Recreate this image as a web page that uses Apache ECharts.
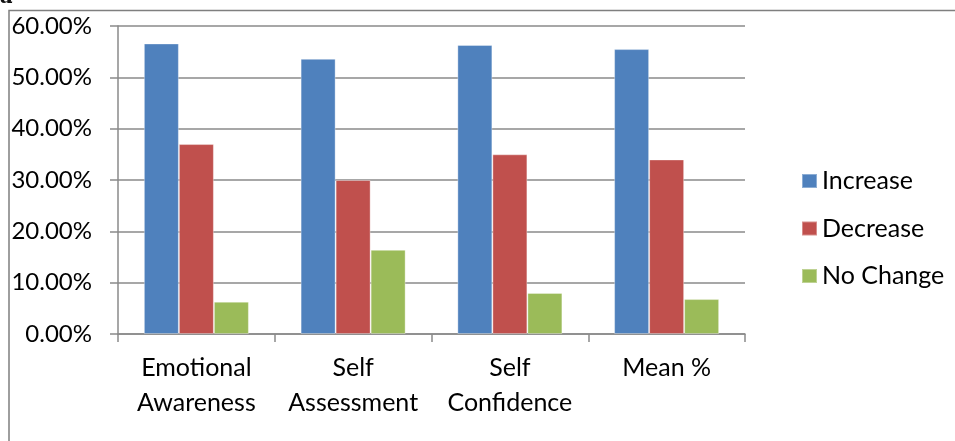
<!DOCTYPE html>
<html>
<head>
<meta charset="utf-8">
<script src="https://cdn.jsdelivr.net/npm/echarts@6/dist/echarts.min.js"></script>
<style>
  html, body { margin: 0; padding: 0; background: #fff; }
  #chart { width: 955px; height: 441px; }
</style>
</head>
<body>
<div id="chart"></div>
<script>
// Category labels and shares per group
const categories = ['Emotional\nAwareness', 'Self\nAssessment', 'Self\nConfidence', 'Mean %'];
const seriesNames = ['Increase', 'Decrease', 'No Change'];
const increase = [0.566, 0.536, 0.563, 0.555];
const decrease = [0.370, 0.300, 0.350, 0.340];
const noChange = [0.063, 0.164, 0.080, 0.068];
const yTicks = { min: 0, max: 0.6, interval: 0.1 };

const colors = ['#4F81BD', '#C0504D', '#9BBB59'];
const font = 'Lato, "Open Sans", sans-serif';
const fontSize = 25;
const gridGrey = '#8a8a8a';

const chart = echarts.init(document.getElementById('chart'), null, { renderer: 'canvas' });

function bar(name, data, color) {
  return {
    name: name,
    type: 'bar',
    data: data,
    barGap: '0%',
    barCategoryGap: '33%',
    itemStyle: { color: color, borderColor: 'rgba(255,255,255,0.35)', borderWidth: 1 },
    emphasis: { disabled: true }
  };
}

chart.setOption({
  animation: false,
  color: colors,
  textStyle: { fontFamily: font },
  graphic: [
    // outer frame (top and left edges)
    { type: 'polyline', shape: { points: [[9, 441], [9, 10.5], [955, 10.5]] },
      style: { stroke: '#7f7f7f', lineWidth: 1.5, fill: null } },
    // clipped caption letter above the frame
    { type: 'text', left: 0, top: -14,
      style: { text: 'a', font: 'bold italic 22px "DejaVu Serif", serif', fill: '#111' } }
  ],
  grid: { left: 118, right: 210, top: 26, bottom: 107, containLabel: false },
  legend: {
    orient: 'vertical',
    left: 801,
    top: 166,
    padding: 0,
    itemWidth: 15,
    itemHeight: 14,
    itemGap: 17.5,
    icon: 'rect',
    data: seriesNames,
    textStyle: { fontFamily: font, fontSize: fontSize, lineHeight: 30, color: '#000' }
  },
  xAxis: {
    type: 'category',
    data: categories,
    axisLine: { show: true, lineStyle: { color: gridGrey, width: 1.5 } },
    axisTick: { show: true, length: 8, inside: false, lineStyle: { color: gridGrey, width: 1.5 } },
    axisLabel: { fontFamily: font, fontSize: fontSize, color: '#000', margin: 16, lineHeight: 35, interval: 0 }
  },
  yAxis: {
    type: 'value',
    min: yTicks.min,
    max: yTicks.max,
    interval: yTicks.interval,
    axisLine: { show: true, lineStyle: { color: gridGrey, width: 1.5 } },
    axisTick: { show: true, length: 8, inside: false, lineStyle: { color: gridGrey, width: 1.5 } },
    splitLine: { show: true, lineStyle: { color: gridGrey, width: 1.5 } },
    axisLabel: {
      fontFamily: font, fontSize: 24, color: '#000', margin: 26,
      formatter: v => (v * 100).toFixed(2) + '%'
    }
  },
  series: [
    bar(seriesNames[0], increase, colors[0]),
    bar(seriesNames[1], decrease, colors[1]),
    bar(seriesNames[2], noChange, colors[2])
  ]
});
</script>
</body>
</html>
